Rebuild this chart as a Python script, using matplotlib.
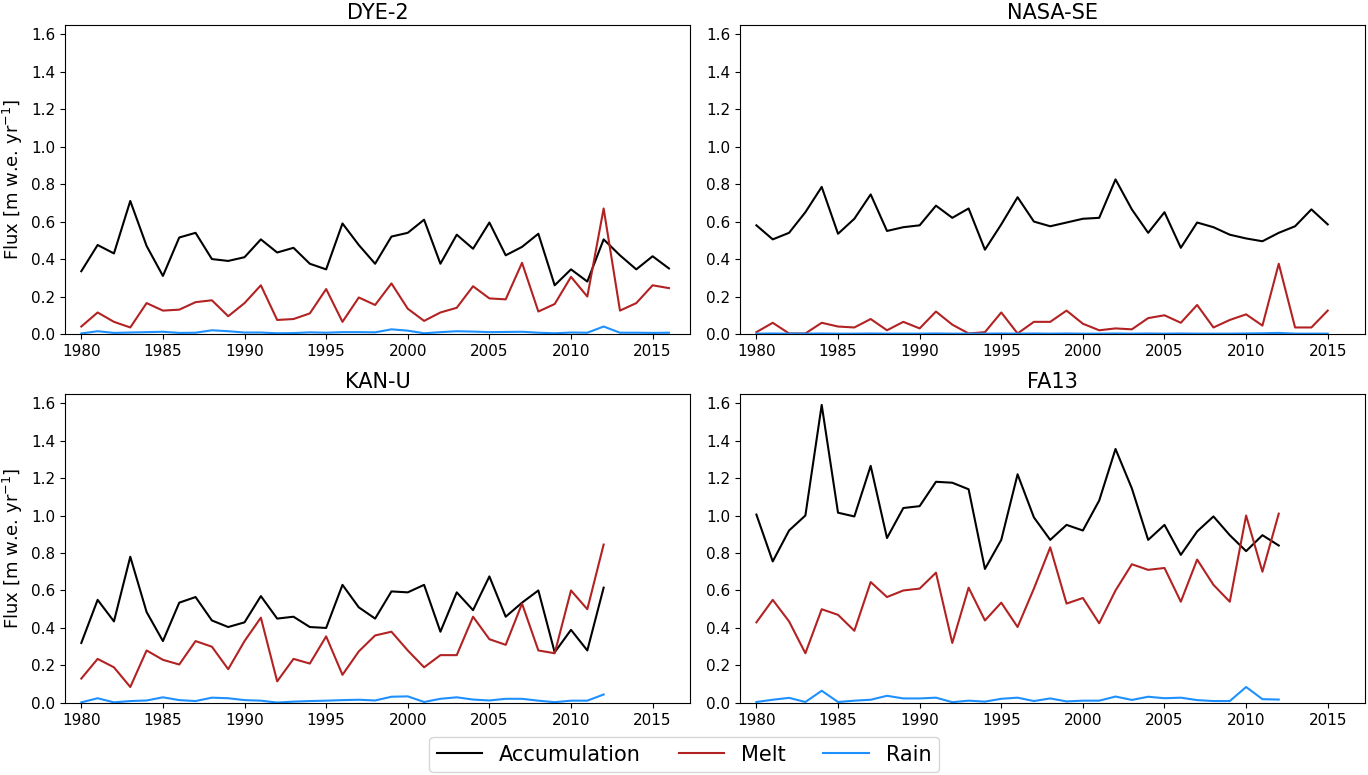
import numpy as np
import matplotlib
matplotlib.use('Agg')
import matplotlib.pyplot as plt

# anos de cada estação
anos_dye2 = np.arange(1980, 2017)
anos_nasase = np.arange(1980, 2016)
anos_kanu = np.arange(1980, 2013)
anos_fa13 = np.arange(1980, 2013)

# DYE-2
acc_dye2 = [0.335, 0.475, 0.43, 0.71, 0.47, 0.31, 0.515, 0.54, 0.40, 0.39,
            0.41, 0.505, 0.435, 0.46, 0.375, 0.345, 0.59, 0.475, 0.375, 0.52,
            0.54, 0.61, 0.375, 0.53, 0.455, 0.595, 0.42, 0.465, 0.535, 0.26,
            0.345, 0.28, 0.505, 0.42, 0.345, 0.415, 0.35]
melt_dye2 = [0.04, 0.115, 0.065, 0.035, 0.165, 0.125, 0.13, 0.17, 0.18, 0.095,
             0.165, 0.26, 0.075, 0.08, 0.11, 0.24, 0.065, 0.195, 0.155, 0.27,
             0.135, 0.07, 0.115, 0.14, 0.255, 0.19, 0.185, 0.38, 0.12, 0.16,
             0.305, 0.20, 0.67, 0.125, 0.165, 0.26, 0.245]
rain_dye2 = [0.003, 0.015, 0.006, 0.008, 0.01, 0.012, 0.006, 0.007, 0.02, 0.015,
             0.008, 0.008, 0.004, 0.005, 0.009, 0.007, 0.01, 0.01, 0.009, 0.025,
             0.018, 0.004, 0.01, 0.015, 0.013, 0.01, 0.011, 0.012, 0.007, 0.004,
             0.008, 0.007, 0.04, 0.007, 0.007, 0.006, 0.007]

# NASA-SE
acc_nasase = [0.58, 0.505, 0.54, 0.65, 0.785, 0.535, 0.615, 0.745, 0.55, 0.57,
              0.58, 0.685, 0.62, 0.67, 0.45, 0.585, 0.73, 0.60, 0.575, 0.595,
              0.615, 0.62, 0.825, 0.665, 0.54, 0.65, 0.46, 0.595, 0.57, 0.53,
              0.51, 0.495, 0.54, 0.575, 0.665, 0.585]
melt_nasase = [0.01, 0.06, 0.003, 0.003, 0.06, 0.04, 0.035, 0.08, 0.02, 0.065,
               0.03, 0.12, 0.05, 0.003, 0.01, 0.115, 0.003, 0.065, 0.065, 0.125,
               0.055, 0.02, 0.03, 0.025, 0.085, 0.10, 0.06, 0.155, 0.035, 0.075,
               0.105, 0.045, 0.375, 0.035, 0.035, 0.125]
rain_nasase = [0.002, 0.003, 0.002, 0.002, 0.003, 0.002, 0.002, 0.003, 0.002, 0.002,
               0.002, 0.003, 0.002, 0.002, 0.002, 0.003, 0.002, 0.003, 0.002, 0.003,
               0.002, 0.002, 0.003, 0.002, 0.003, 0.002, 0.003, 0.002, 0.002, 0.002,
               0.003, 0.004, 0.006, 0.002, 0.002, 0.002]

# KAN-U
acc_kanu = [0.32, 0.55, 0.435, 0.78, 0.485, 0.33, 0.535, 0.565, 0.44, 0.405,
            0.43, 0.57, 0.45, 0.46, 0.405, 0.40, 0.63, 0.51, 0.45, 0.595,
            0.59, 0.63, 0.38, 0.59, 0.495, 0.675, 0.46, 0.535, 0.60, 0.27,
            0.39, 0.28, 0.615]
melt_kanu = [0.13, 0.235, 0.19, 0.085, 0.28, 0.23, 0.205, 0.33, 0.30, 0.18,
             0.33, 0.455, 0.115, 0.235, 0.21, 0.355, 0.15, 0.275, 0.36, 0.38,
             0.28, 0.19, 0.255, 0.255, 0.46, 0.34, 0.31, 0.53, 0.28, 0.265,
             0.60, 0.50, 0.845]
rain_kanu = [0.003, 0.025, 0.003, 0.01, 0.013, 0.03, 0.015, 0.01, 0.028, 0.025,
             0.015, 0.012, 0.002, 0.007, 0.01, 0.012, 0.015, 0.017, 0.013, 0.033,
             0.035, 0.005, 0.022, 0.03, 0.018, 0.013, 0.022, 0.022, 0.012, 0.004,
             0.012, 0.012, 0.045]

# FA13
acc_fa13 = [1.005, 0.755, 0.92, 1.0, 1.59, 1.015, 0.995, 1.265, 0.88, 1.04,
            1.05, 1.18, 1.175, 1.14, 0.715, 0.87, 1.22, 0.99, 0.87, 0.95,
            0.92, 1.08, 1.355, 1.145, 0.87, 0.95, 0.79, 0.915, 0.995, 0.895,
            0.81, 0.895, 0.84]
melt_fa13 = [0.43, 0.55, 0.435, 0.265, 0.50, 0.47, 0.385, 0.645, 0.565, 0.60,
             0.61, 0.695, 0.32, 0.615, 0.44, 0.535, 0.405, 0.61, 0.83, 0.53,
             0.56, 0.425, 0.60, 0.74, 0.71, 0.72, 0.54, 0.765, 0.63, 0.54,
             1.0, 0.70, 1.01]
rain_fa13 = [0.005, 0.017, 0.027, 0.005, 0.065, 0.005, 0.012, 0.017, 0.038, 0.024,
             0.024, 0.028, 0.004, 0.012, 0.007, 0.022, 0.028, 0.01, 0.024, 0.008,
             0.012, 0.012, 0.034, 0.016, 0.033, 0.025, 0.028, 0.015, 0.01, 0.01,
             0.085, 0.02, 0.018]

nomes = ['DYE-2', 'NASA-SE', 'KAN-U', 'FA13']
anos = [anos_dye2, anos_nasase, anos_kanu, anos_fa13]
acc = [acc_dye2, acc_nasase, acc_kanu, acc_fa13]
melt = [melt_dye2, melt_nasase, melt_kanu, melt_fa13]
rain = [rain_dye2, rain_nasase, rain_kanu, rain_fa13]

fig = plt.figure(figsize=(13.68, 7.75), dpi=100)

# posições dos eixos (left, bottom, width, height) em fração da figura
pos = [[0.0475, 0.569, 0.457, 0.399],
       [0.541, 0.569, 0.457, 0.399],
       [0.0475, 0.093, 0.457, 0.399],
       [0.541, 0.093, 0.457, 0.399]]

linhas = []
for i in range(4):
    ax = fig.add_axes(pos[i])
    l1, = ax.plot(anos[i], acc[i], color='black', lw=1.5, label='Accumulation')
    l2, = ax.plot(anos[i], melt[i], color='firebrick', lw=1.5, label='Melt')
    l3, = ax.plot(anos[i], rain[i], color='dodgerblue', lw=1.5, label='Rain')
    linhas = [l1, l2, l3]
    ax.set_xlim(1979, 2017.3)
    ax.set_ylim(0, 1.65)
    ax.set_xticks(np.arange(1980, 2016, 5))
    ax.set_yticks(np.arange(0, 1.61, 0.2))
    ax.tick_params(labelsize=11)
    ax.set_title(nomes[i], fontsize=15, pad=4)
    if i % 2 == 0:
        ax.set_ylabel('Flux [m w.e. yr$^{-1}$]', fontsize=13)

fig.legend(handles=linhas, loc='lower center', ncol=3, fontsize=15,
           bbox_to_anchor=(0.5, 0.0), frameon=True, handlelength=2.2,
           columnspacing=1.8, borderpad=0.35, borderaxespad=0.15)

plt.savefig('out.png', dpi=100)
